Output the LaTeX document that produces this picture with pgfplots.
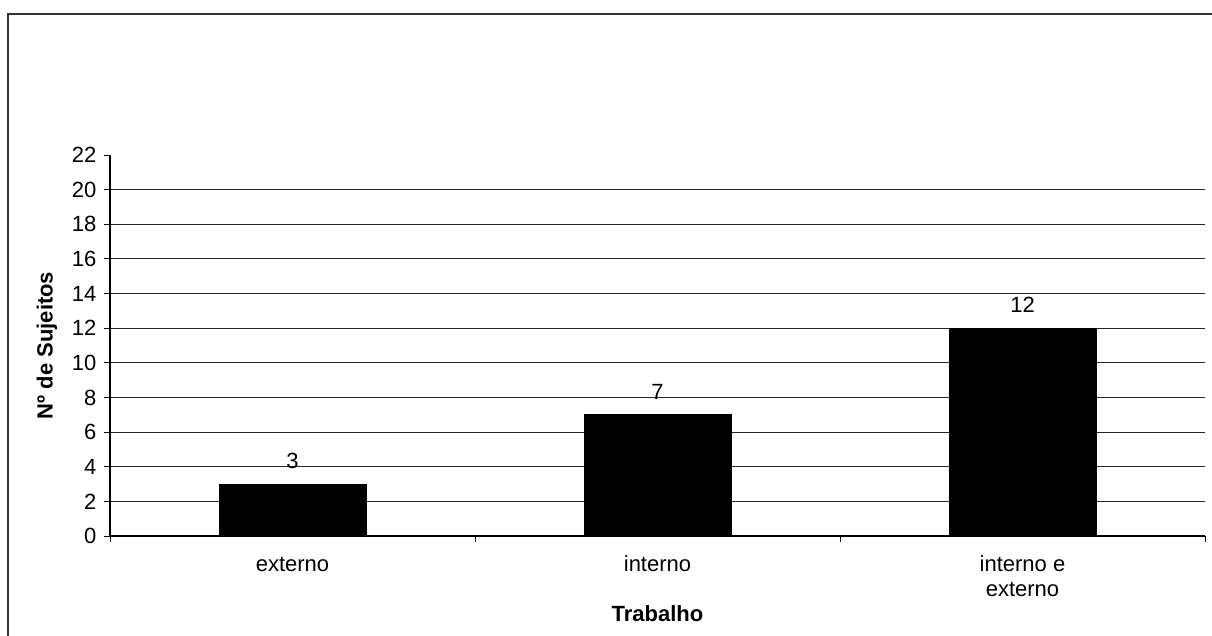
\documentclass[border=0pt]{standalone}
\usepackage{fontspec}
\setmainfont{Liberation Sans}
\usepackage{pgfplots}
\pgfplotsset{compat=1.18}
\begin{document}
\fontsize{11pt}{13pt}\selectfont
\begin{tikzpicture}
\path[use as bounding box] (0,0) rectangle (606pt,-318pt);
\draw[line width=1pt, black!80] (4pt,-318pt) -- (4pt,-7pt) -- (606pt,-7pt);
\begin{axis}[
  at={(55pt,-268pt)}, anchor=south west,
  scale only axis, width=547.5pt, height=190.5pt,
  xmin=-0.5, xmax=2.5, ymin=0, ymax=22,
  axis lines*=left,
  axis line style={black, line width=0.6pt},
  tick align=outside, major tick length=3pt,
  tick style={black, line width=0.5pt},
  ytick={0,2,...,20},
  extra y ticks={22}, extra y tick style={grid=none},
  ymajorgrids, grid style={black!85, line width=0.5pt},
  xtick={-0.5,0.5,1.5,2.5}, xticklabels={},
  extra x ticks={0,1,2},
  extra x tick labels={\strut externo, \strut interno, {\strut interno e\\\strut externo}},
  extra x tick style={major tick length=0pt, xticklabel style={align=center, font=\fontsize{11pt}{12.5pt}\selectfont, yshift=-5pt}},
  yticklabel style={font=\fontsize{11pt}{13pt}\selectfont},
  /pgf/number format/assume math mode=true,
  xlabel={\textbf{Trabalho}}, ylabel={\textbf{Nº de Sujeitos}},
  xlabel style={at={(axis description cs:0.5,-0.2047)}, anchor=center},
  ylabel style={at={(axis description cs:-0.0575,0.5)}, anchor=center},
  label style={font=\fontsize{11pt}{13pt}\selectfont},
  nodes near coords,
  nodes near coords style={font=\fontsize{11pt}{13pt}\selectfont, yshift=4pt},
]
\addplot[ybar, bar width=73.5pt, fill=black, draw=black] coordinates {(0,3) (1,7) (2,12)};
\end{axis}
\end{tikzpicture}
\end{document}
